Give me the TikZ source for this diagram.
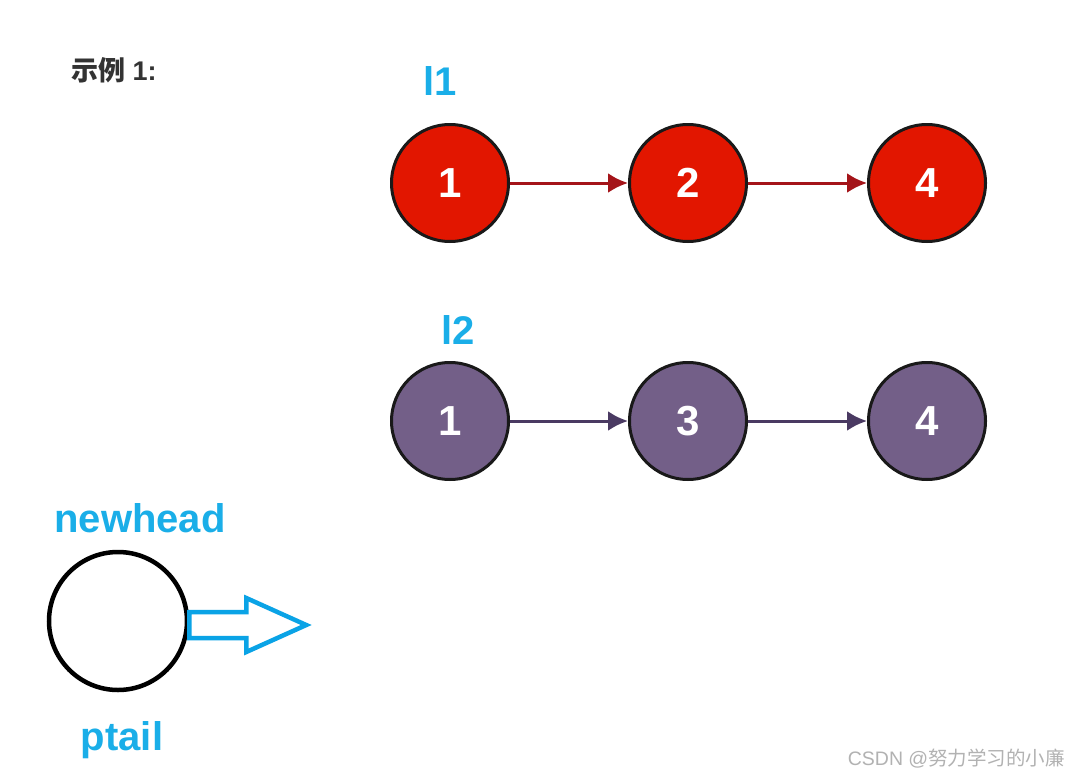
\documentclass[tikz,border=0pt]{standalone}
\usepackage{fontspec}
\setmainfont{Liberation Sans}
\newfontfamily\cjk{Noto Sans CJK SC}
\usetikzlibrary{arrows.meta}
\definecolor{nodered}{HTML}{E21600}
\definecolor{nodepurple}{HTML}{735F88}
\definecolor{arrred}{HTML}{A41419}
\definecolor{arrpurple}{HTML}{4A3A62}
\definecolor{labcyan}{HTML}{1AAEE8}
\definecolor{fatblue}{HTML}{0AA3E6}
\begin{document}
\begin{tikzpicture}[x=1pt,y=-1pt,
  listnode/.style={circle,draw=black!90,line width=3pt,minimum size=117pt,inner sep=0pt,text=white,font=\fontsize{42}{42}\selectfont\bfseries},
  rednode/.style={listnode,fill=nodered},
  purplenode/.style={listnode,fill=nodepurple},
  redlink/.style={draw=arrred,line width=3pt,-{Latex[length=20pt,width=20pt]}},
  purplelink/.style={draw=arrpurple,line width=3pt,-{Latex[length=20pt,width=20pt]}},
  cyanlabel/.style={text=labcyan,font=\fontsize{40}{40}\selectfont\bfseries,inner sep=0pt}
]
\useasboundingbox (0,0) rectangle (1068,776);
\fill[white] (0,0) rectangle (1068,776);
% title
\node[inner sep=0pt,anchor=west,text=black!80,font=\fontsize{27}{27}\selectfont\bfseries] (title) at (71,70) {{\cjk\bfseries 示例} 1:};
% list 1
\node[cyanlabel] (l1lab) at (440,81) {l1};
\node[rednode] (a1) at (450,183) {1};
\node[rednode] (a2) at (688,183) {2};
\node[rednode] (a3) at (927,183) {4};
\draw[redlink] (a1) -- (a2);
\draw[redlink] (a2) -- (a3);
% list 2
\node[cyanlabel] (l2lab) at (458,330) {l2};
\node[purplenode] (b1) at (450,421) {1};
\node[purplenode] (b2) at (688,421) {3};
\node[purplenode] (b3) at (927,421) {4};
\draw[purplelink] (b1) -- (b2);
\draw[purplelink] (b2) -- (b3);
% newhead
\node[cyanlabel] (nh) at (140,518) {newhead};
\node[circle,draw=black,line width=4.5pt,minimum size=138pt,inner sep=0pt] (head) at (118,621) {};
\node[cyanlabel] (pt) at (122,740) {ptail};
\coordinate (fa) at ([yshift=-4pt]head.east);
\draw[fatblue,line width=4.5pt,line join=miter]
  ([yshift=13pt]fa) -- ++(57,0) -- ++(0,-14) -- ++(60,27) -- ++(-60,27) -- ++(0,-14) -- ++(-57,0) -- cycle;
% watermark
\node[inner sep=0pt,anchor=east,text=black!30,font=\fontsize{19.5}{19.5}\selectfont] (wm) at (1065,759) {CSDN @{\cjk 努力学习的小廉}};
\end{tikzpicture}
\end{document}
